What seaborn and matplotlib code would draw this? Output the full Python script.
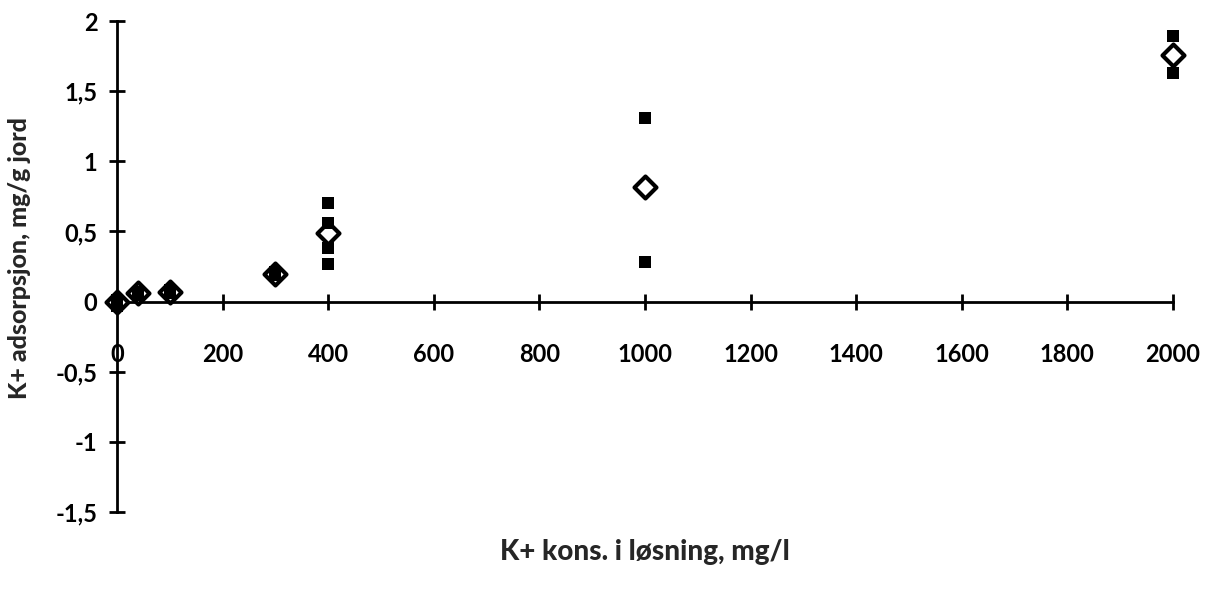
import matplotlib
matplotlib.use("Agg")
import matplotlib.pyplot as plt
import seaborn as sns
import pandas as pd

# Individual replicate measurements (filled squares)
rep_conc = [0, 0, 0, 40, 40, 40, 100, 100, 100, 300, 300, 300,
            400, 400, 400, 400, 1000, 1000, 2000, 2000]
rep_ads = [0.0, -0.03, 0.01, 0.05, 0.07, 0.06, 0.07, 0.08, 0.06, 0.19, 0.21, 0.20,
           0.70, 0.56, 0.385, 0.27, 1.31, 0.285, 1.89, 1.63]

# Mean adsorption per concentration (open diamonds)
mean_conc = [0, 40, 100, 300, 400, 1000, 2000]
mean_ads = [0.0, 0.06, 0.07, 0.20, 0.49, 0.82, 1.76]

x_ticks = [0, 200, 400, 600, 800, 1000, 1200, 1400, 1600, 1800, 2000]
y_ticks = [-1.5, -1.0, -0.5, 0.0, 0.5, 1.0, 1.5, 2.0]
y_tick_labels = ["-1,5", "-1", "-0,5", "0", "0,5", "1", "1,5", "2"]

sns.set_style("white")
plt.rcParams["font.family"] = ["Lato", "DejaVu Sans"]

fig = plt.figure(figsize=(12.14, 6.01), dpi=100)
ax = fig.add_axes([0.0964, 0.148, 0.8698, 0.817])

reps = pd.DataFrame({"conc": rep_conc, "ads": rep_ads})
means = pd.DataFrame({"conc": mean_conc, "ads": mean_ads})

sns.scatterplot(data=means, x="conc", y="ads", marker="D", s=125,
                facecolor="white", edgecolor="black", linewidth=3.0,
                ax=ax, clip_on=False)
sns.scatterplot(data=reps, x="conc", y="ads", marker="s", s=75,
                color="black", edgecolor="black", linewidth=0,
                ax=ax, clip_on=False)
# replicate squares sit above the mean diamonds
ax.collections[0].set_zorder(3)
ax.collections[1].set_zorder(4)

ax.set_xlim(0, 2000)
ax.set_ylim(-1.5, 2.0)

for side in ("top", "right"):
    ax.spines[side].set_visible(False)
ax.spines["bottom"].set_position(("data", 0))
ax.spines["left"].set_position(("data", 0))
for side in ("bottom", "left"):
    ax.spines[side].set_linewidth(2)
    ax.spines[side].set_color("black")

ax.set_xticks(x_ticks)
ax.set_xticklabels([str(v) for v in x_ticks])
ax.set_yticks(y_ticks)
ax.set_yticklabels(y_tick_labels)

ax.tick_params(axis="both", direction="inout", length=12, width=2, color="black",
               labelsize=17, labelcolor="black", bottom=True, left=True)
ax.tick_params(axis="x", pad=24)
ax.tick_params(axis="y", pad=8)
for lbl in ax.get_xticklabels() + ax.get_yticklabels():
    lbl.set_fontweight("bold")

ax.set_xlabel("")
ax.set_ylabel("")
fig.text(0.531, 0.082, "K+ kons. i løsning, mg/l", ha="center", va="center",
         fontsize=20, fontweight="black")
fig.text(0.016, 0.571, "K+ adsorpsjon, mg/g jord", ha="center", va="center",
         rotation=90, fontsize=18, fontweight="black")

fig.savefig("out.png", dpi=100)
